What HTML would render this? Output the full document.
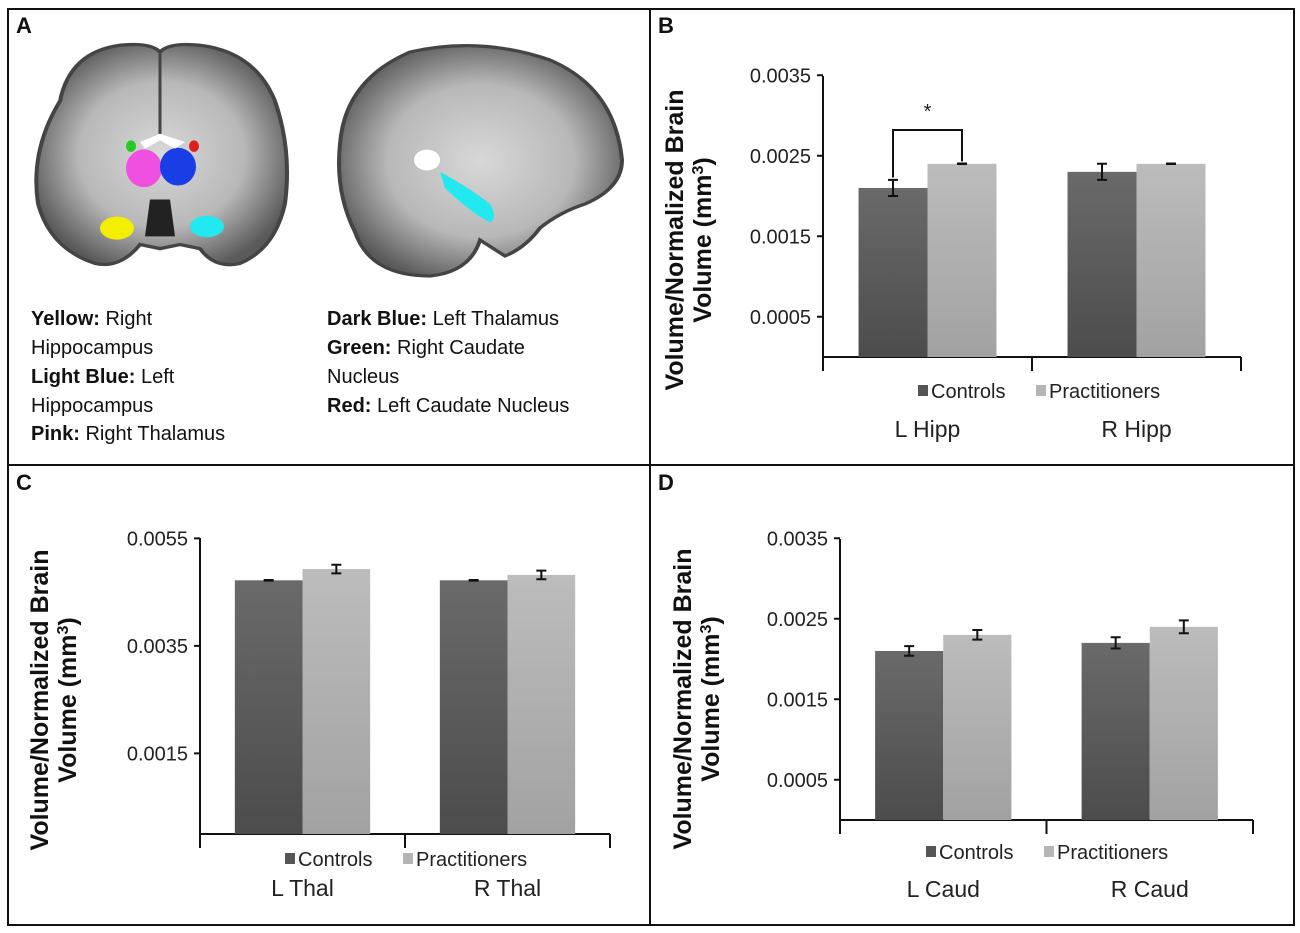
<!DOCTYPE html>
<html><head><meta charset="utf-8"><style>
html,body{margin:0;padding:0;background:#fff;}
body{width:1300px;height:933px;position:relative;overflow:hidden;font-family:"Liberation Sans",Arial,sans-serif;}
svg{position:absolute;left:0;top:0;}
</style></head><body>
<svg id="fig" width="1300" height="933" viewBox="0 0 1300 933">
<defs>
<linearGradient id="gDark" x1="0" y1="0" x2="0" y2="1"><stop offset="0" stop-color="#6a6a6a"/><stop offset="1" stop-color="#4c4c4c"/></linearGradient>
<linearGradient id="gLight" x1="0" y1="0" x2="0" y2="1"><stop offset="0" stop-color="#bcbcbc"/><stop offset="1" stop-color="#a2a2a2"/></linearGradient>
<radialGradient id="gBrain" cx="0.5" cy="0.5" r="0.55"><stop offset="0" stop-color="#d8d8d8"/><stop offset="0.6" stop-color="#b8b8b8"/><stop offset="1" stop-color="#5a5a5a"/></radialGradient>
</defs>
<g fill="none" stroke="#111" stroke-width="2">
<rect x="8" y="9" width="642" height="456"/>
<rect x="650" y="9" width="644" height="456"/>
<rect x="8" y="465" width="642" height="460"/>
<rect x="650" y="465" width="644" height="460"/>
</g>
<g font-weight="bold" font-size="22" fill="#111">
<text x="16" y="33">A</text>
<text x="658" y="33">B</text>
<text x="16" y="490">C</text>
<text x="658" y="490">D</text>
</g>
<g transform="translate(0,42) scale(1,0.82) translate(0,-48)">
<path d="M60,120 Q70,60 120,52 Q150,48 160,60 Q170,48 200,52 Q255,60 275,120 Q292,180 285,245 Q275,300 240,318 Q215,325 200,300 L180,295 L160,300 L140,295 Q120,325 95,318 Q50,300 38,245 Q30,180 60,120Z" fill="url(#gBrain)" stroke="#444" stroke-width="4"/>
<path d="M160,60 L160,160" stroke="#444" stroke-width="3"/>
<path d="M145,285 L175,285 L170,240 L150,240Z" fill="#222"/>
<ellipse cx="144" cy="202" rx="18" ry="23" fill="#f050e0"/>
<ellipse cx="178" cy="200" rx="18" ry="23" fill="#1a3ee6"/>
<ellipse cx="131" cy="175" rx="5" ry="7" fill="#22cc22"/>
<ellipse cx="194" cy="175" rx="5" ry="7" fill="#e02020"/>
<path d="M140,170 L160,160 L185,170 L175,178 L160,168 L145,178Z" fill="#fff"/>
<ellipse cx="117" cy="275" rx="17" ry="14" fill="#f4ee00"/>
<ellipse cx="207" cy="273" rx="17" ry="13" fill="#22e8ef"/>
</g>
<g transform="translate(0,36) scale(1,0.8) translate(0,-35)">
<path d="M340,170 Q345,90 410,55 Q480,35 550,65 Q615,100 622,190 Q622,225 585,245 Q560,255 540,275 Q525,300 505,310 L480,290 Q470,330 430,335 Q370,335 355,280 Q335,230 340,170Z" fill="url(#gBrain)" stroke="#444" stroke-width="4"/>
<circle cx="427" cy="190" r="13" fill="#fff"/>
<path d="M440,205 Q470,225 490,245 Q498,262 490,268 Q470,255 445,225Z" fill="#22e8ef"/>
</g>
<g font-size="20" fill="#111">
<text x="31" y="325"><tspan font-weight="bold">Yellow:</tspan> Right</text>
<text x="31" y="354">Hippocampus</text>
<text x="31" y="383"><tspan font-weight="bold">Light Blue:</tspan> Left</text>
<text x="31" y="412">Hippocampus</text>
<text x="31" y="440"><tspan font-weight="bold">Pink:</tspan> Right Thalamus</text>
<text x="327" y="325"><tspan font-weight="bold">Dark Blue:</tspan> Left Thalamus</text>
<text x="327" y="354"><tspan font-weight="bold">Green:</tspan> Right Caudate</text>
<text x="327" y="383">Nucleus</text>
<text x="327" y="412"><tspan font-weight="bold">Red:</tspan> Left Caudate Nucleus</text>
</g>
<g id="chartB"></g><g id="chartC"></g><g id="chartD"></g>
</svg>
<script>
// Panel B
const catsB = ["L Hipp", "R Hipp"];
const ctrlB = [0.0021, 0.0023];
const pracB = [0.0024, 0.0024];
const ctrlErrB = [0.0001, 0.0001];
const pracErrB = [0.000003, 0.000003];
const ticksB = ["0.0035", "0.0025", "0.0015", "0.0005"];
// Panel C
const catsC = ["L Thal", "R Thal"];
const ctrlC = [0.00472, 0.00472];
const pracC = [0.00493, 0.00482];
const ctrlErrC = [0.000005, 0.000005];
const pracErrC = [0.00008, 0.00008];
const ticksC = ["0.0055", "0.0035", "0.0015"];
// Panel D
const catsD = ["L Caud", "R Caud"];
const ctrlD = [0.0021, 0.0022];
const pracD = [0.0023, 0.0024];
const ctrlErrD = [0.00006, 0.00007];
const pracErrD = [0.00006, 0.00008];
const ticksD = ["0.0035", "0.0025", "0.0015", "0.0005"];

const NS = "http://www.w3.org/2000/svg";
function mk(parent, tag, attrs, txt){
  const e = document.createElementNS(NS, tag);
  for (const k in attrs) e.setAttribute(k, attrs[k]);
  if (txt !== undefined) e.textContent = txt;
  parent.appendChild(e); return e;
}
function chart(g, o, cats, ctrl, prac, ce, pe, ticks){
  const y = v => o.y0 - v * o.k;
  const x0 = o.x0, x1 = o.x1, slot = (x1 - x0) / cats.length;
  const ya = mk(g, "line", {x1:x0, y1:o.top, x2:x0, y2:o.y0 + 14, stroke:"#111", "stroke-width":2});
  
  
  ticks.forEach(t => {
    const v = parseFloat(t);
    const tk = mk(g, "line", {x1:x0 - 6, y1:y(v), x2:x0, y2:y(v), stroke:"#111", "stroke-width":2});
    
    
    const tl = mk(g, "text", {x:x0 - 12, y:y(v) + 7, "text-anchor":"end", "font-size":20, fill:"#222"}, t);
    
    
  });
  const xa = mk(g, "line", {x1:x0, y1:o.y0, x2:x1, y2:o.y0, stroke:"#111", "stroke-width":2});
  
  
  for (let i = 1; i <= cats.length; i++){
    const t = mk(g, "line", {x1:x0 + slot*i, y1:o.y0, x2:x0 + slot*i, y2:o.y0 + 14, stroke:"#111", "stroke-width":2});
    
    
  }
  const bw = slot * 0.33;
  cats.forEach((c, i) => {
    const cx = x0 + slot * (i + 0.5);
    [[ctrl, ce, "url(#gDark)", -1, "bar-controls-"], [prac, pe, "url(#gLight)", 0, "bar-practitioners-"]].forEach(([vals, errs, fill, off, nm]) => {
      const bx = cx + off * bw;
      const r = mk(g, "rect", {x:bx, y:y(vals[i]), width:bw, height:o.y0 - y(vals[i]), fill:fill});
      
      
      const ex = bx + bw / 2, yt = y(vals[i] + errs[i]), yb = y(vals[i] - errs[i]);
      const eb = mk(g, "path", {d:`M${ex},${yt}V${yb}M${ex-5},${yt}H${ex+5}M${ex-5},${yb}H${ex+5}`, stroke:"#111", "stroke-width":2, fill:"none"});
      
      
    });
    const cl = mk(g, "text", {x:cx, y:o.catY, "text-anchor":"middle", "font-size":23, fill:"#222"}, c);
    
    
  });
  const lg = mk(g, "g", {});
  
  
  mk(lg, "rect", {x:o.legX, y:o.legY - 13, width:10, height:11, fill:"#555"});
  mk(lg, "text", {x:o.legX + 13, y:o.legY, "font-size":20, fill:"#222"}, "Controls");
  mk(lg, "rect", {x:o.legX + 118, y:o.legY - 13, width:10, height:11, fill:"#b5b5b5"});
  mk(lg, "text", {x:o.legX + 131, y:o.legY, "font-size":20, fill:"#222"}, "Practitioners");
  const tt = mk(g, "text", {transform:`translate(${o.titleX},${o.titleY}) rotate(-90)`, "text-anchor":"middle", "font-size":25, "font-weight":"bold", fill:"#111"});
  
  
  mk(tt, "tspan", {x:0, y:0}, "Volume/Normalized Brain");
  mk(tt, "tspan", {x:0, y:28}, "Volume (mm");
  mk(tt, "tspan", {"baseline-shift":"super", "font-size":16}, "3");
  mk(tt, "tspan", {}, ")");
  return y;
}
const yB = chart(document.getElementById("chartB"), {x0:823, x1:1241, y0:357, k:80500, top:76, catY:437, legX:918, legY:398, titleX:683, titleY:240}, catsB, ctrlB, pracB, ctrlErrB, pracErrB, ticksB);
const gb = document.getElementById("chartB");
const brX1 = 823 + 209*0.5 - 209*0.33/2, brX2 = 823 + 209*0.5 + 209*0.33/2;
const br = mk(gb, "path", {d:`M${brX1},${yB(0.00223)}V${yB(0.00282)}H${brX2}V${yB(0.00243)}`, stroke:"#111", "stroke-width":2, fill:"none"});


const st = mk(gb, "text", {x:(brX1+brX2)/2, y:yB(0.00282) - 12, "text-anchor":"middle", "font-size":20, fill:"#222"}, "*");


chart(document.getElementById("chartC"), {x0:200, x1:610, y0:834, k:53750, top:538, catY:896, legX:285, legY:866, titleX:48, titleY:700}, catsC, ctrlC, pracC, ctrlErrC, pracErrC, ticksC);
chart(document.getElementById("chartD"), {x0:840, x1:1253, y0:820, k:80500, top:539, catY:897, legX:926, legY:859, titleX:691, titleY:699}, catsD, ctrlD, pracD, ctrlErrD, pracErrD, ticksD);
</script>
</body></html>
